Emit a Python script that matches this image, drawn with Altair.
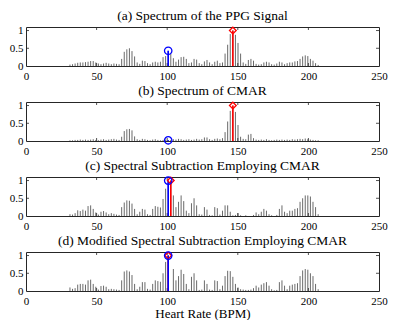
import altair as alt
import pandas as pd

# Frequency bins (BPM)
bpm = [31.13, 32.96, 34.79, 36.62, 38.45, 40.28, 42.12, 43.95, 45.78, 47.61,
       49.44, 51.27, 53.10, 54.93, 56.76, 58.59, 60.43, 62.26, 64.09, 65.92,
       67.75, 69.58, 71.41, 73.24, 75.07, 76.91, 78.74, 80.57, 82.40, 84.23,
       86.06, 87.89, 89.72, 91.55, 93.39, 95.22, 97.05, 98.88, 100.71, 102.54,
       104.37, 106.20, 108.03, 109.86, 111.70, 113.53, 115.36, 117.19, 119.02, 120.85,
       122.68, 124.51, 126.34, 128.18, 130.01, 131.84, 133.67, 135.50, 137.33, 139.16,
       140.99, 142.82, 144.66, 146.49, 148.32, 150.15, 151.98, 153.81, 155.64, 157.47,
       159.30, 161.13, 162.97, 164.80, 166.63, 168.46, 170.29, 172.12, 173.95, 175.78,
       177.61, 179.45, 181.28, 183.11, 184.94, 186.77, 188.60, 190.43, 192.26, 194.09,
       195.93, 197.76, 199.59, 201.42, 203.25, 205.08, 206.91]

spec_a = [0.04, 0.05, 0.07, 0.09, 0.1, 0.1, 0.11, 0.12, 0.14, 0.14,
          0.1, 0.07, 0.05, 0.07, 0.09, 0.07, 0.05, 0.07, 0.06, 0.05,
          0.2, 0.4, 0.47, 0.5, 0.42, 0.27, 0.1, 0.06, 0.15, 0.14,
          0.08, 0.05, 0.1, 0.12, 0.1, 0.12, 0.25, 0.28,
          0.43,
          0.35, 0.22, 0.12, 0.18, 0.25, 0.26, 0.2, 0.08, 0.1, 0.2,
          0.18, 0.08, 0.05, 0.13, 0.17, 0.1, 0.05, 0.12, 0.15, 0.08,
          0.1, 0.35, 0.6, 0.9,
          1.0,
          0.88, 0.65, 0.35, 0.1, 0.06, 0.17, 0.2, 0.15, 0.06, 0.04,
          0.05, 0.1, 0.12, 0.1, 0.05, 0.04, 0.07, 0.12, 0.1, 0.05,
          0.08, 0.1, 0.1, 0.13, 0.14, 0.2, 0.27, 0.3, 0.28, 0.2,
          0.15, 0.08, 0.03]

spec_b = [0.02, 0.02, 0.03, 0.03, 0.04, 0.03, 0.04, 0.03, 0.04, 0.05,
          0.03, 0.02, 0.04, 0.05, 0.03, 0.04, 0.05, 0.06, 0.04, 0.03,
          0.12, 0.28, 0.33, 0.34, 0.3, 0.13, 0.05, 0.03, 0.06, 0.05,
          0.03, 0.02, 0.04, 0.05, 0.03, 0.02, 0.03, 0.04,
          0.02,
          0.03, 0.05, 0.04, 0.06, 0.05, 0.03, 0.04, 0.05, 0.03, 0.04,
          0.06, 0.04, 0.05, 0.1, 0.1, 0.05, 0.03, 0.06, 0.07, 0.05,
          0.08, 0.25, 0.55, 0.85,
          1.0,
          0.82, 0.45, 0.12, 0.06, 0.05, 0.18, 0.2, 0.08, 0.04, 0.03,
          0.04, 0.03, 0.05, 0.03, 0.02, 0.03, 0.04, 0.03, 0.04, 0.03,
          0.04, 0.03, 0.05, 0.04, 0.05, 0.06, 0.05, 0.07, 0.05, 0.04,
          0.03, 0.02, 0.02]

spec_c = [0.05, 0.04, 0.08, 0.16, 0.14, 0.18, 0.15, 0.28, 0.3, 0.2,
          0.1, 0.04, 0.12, 0.14, 0.1, 0.05, 0.08, 0.06, 0.04, 0.03,
          0.25, 0.38, 0.44, 0.43, 0.35, 0.2, 0.05, 0.12, 0.2, 0.18,
          0.05, 0.03, 0.2, 0.28, 0.26, 0.24, 0.48, 0.77,
          1.0,
          1.0,
          0.58, 0.25, 0.4, 0.58, 0.42, 0.15, 0.08, 0.36, 0.5, 0.3,
          0.05, 0.04, 0.25, 0.18, 0.03, 0.02, 0.25, 0.22, 0.04, 0.15,
          0.3, 0.3, 0.12,
          0.02, 0.03, 0.08, 0.02, 0.0, 0.02, 0.0, 0.0, 0.03, 0.1,
          0.05, 0.12, 0.2, 0.15, 0.05, 0.02, 0.0, 0.03, 0.2, 0.3,
          0.12, 0.08, 0.15, 0.15, 0.2, 0.22, 0.4, 0.5, 0.58, 0.58,
          0.55, 0.4, 0.25, 0.05]

spec_d = [0.1, 0.06, 0.08, 0.18, 0.2, 0.2, 0.18, 0.3, 0.32, 0.2,
          0.12, 0.04, 0.14, 0.15, 0.12, 0.05, 0.06, 0.05, 0.04, 0.03,
          0.3, 0.55, 0.58, 0.55, 0.45, 0.2, 0.05, 0.12, 0.25, 0.25,
          0.06, 0.04, 0.2, 0.3, 0.28, 0.26, 0.5, 0.82,
          1.0,
          0.0,
          0.62, 0.3, 0.42, 0.6, 0.48, 0.2, 0.05, 0.4, 0.5, 0.3,
          0.03, 0.04, 0.3, 0.2, 0.04, 0.03, 0.3, 0.28, 0.05, 0.15,
          0.42, 0.57, 0.56,
          0.4, 0.2, 0.1, 0.05, 0.04, 0.03, 0.03, 0.04, 0.08, 0.15,
          0.1, 0.18, 0.22, 0.25, 0.15, 0.05, 0.02, 0.03, 0.25, 0.3,
          0.15, 0.05, 0.15, 0.18, 0.2, 0.22, 0.42, 0.58, 0.62, 0.6,
          0.5, 0.42, 0.2, 0.05]

titles = ["(a) Spectrum of the PPG Signal",
          "(b) Spectrum of CMAR",
          "(c) Spectral Subtraction Employing CMAR",
          "(d) Modified Spectral Subtraction Employing CMAR"]
spectra = [spec_a, spec_b, spec_c, spec_d]
blue_bin = [38, 38, 38, 38]   # index into bpm
red_bin = [63, 63, 39, 38]

x_ticks = [0, 50, 100, 150, 200, 250]
x_inner = [50, 100, 150, 200]
y_ticks = [0, 0.5, 1]
y_inner = [0.5, 1]

W, H = 353, 39
FONT = "Liberation Serif"
AX = "#262626"


def panel(vals, title, bi, ri, last):
    df = pd.DataFrame({"bpm": bpm, "amp": vals})
    xs = alt.Scale(domain=[0, 250], nice=False, zero=False)
    ys = alt.Scale(domain=[0, 1.1], nice=False)
    xaxis = alt.Axis(values=x_ticks, ticks=False, domain=False, grid=False,
                     labelPadding=4, labelFlush=False, labelOverlap=False, format="d")
    yaxis = alt.Axis(values=y_ticks, ticks=False, domain=False, grid=False,
                     labelPadding=3, labelOverlap=False, labelFlush=False,
                     labelExpr="datum.value == 0.5 ? '0.5' : format(datum.value, 'd')")
    xt = "Heart Rate (BPM)" if last else None

    def X(f):
        return alt.X(f, scale=xs, axis=xaxis, title=xt)

    def Y(f):
        return alt.Y(f, scale=ys, axis=yaxis, title=None)

    stems = alt.Chart(df).mark_rule(color="#6a6a6a", strokeWidth=1).encode(
        x=X("bpm:Q"), y=Y("amp:Q"), y2=alt.datum(0))
    red = df.iloc[[ri]]
    blue = df.iloc[[bi]]
    red_stem = alt.Chart(red).mark_rule(color="#ff0000", strokeWidth=1.6).encode(
        x=X("bpm:Q"), y=Y("amp:Q"), y2=alt.datum(0))
    blue_stem = alt.Chart(blue).mark_rule(color="#0000ff", strokeWidth=1.6).encode(
        x=X("bpm:Q"), y=Y("amp:Q"), y2=alt.datum(0))
    red_mk = alt.Chart(red).mark_point(shape="diamond", filled=False, color="#ff0000",
                                       size=45, strokeWidth=1.3, opacity=1).encode(
        x=X("bpm:Q"), y=Y("amp:Q"))
    blue_mk = alt.Chart(blue).mark_point(shape="circle", filled=False, color="#0000ff",
                                         size=55, strokeWidth=1.3, opacity=1).encode(
        x=X("bpm:Q"), y=Y("amp:Q"))
    tx = pd.DataFrame({"bpm": x_inner})
    ty = pd.DataFrame({"amp": y_inner})
    top_t = alt.Chart(tx).mark_rule(color=AX, strokeWidth=0.8).encode(
        x=X("bpm:Q"), y=alt.value(0), y2=alt.value(3))
    bot_t = alt.Chart(tx).mark_rule(color=AX, strokeWidth=0.8).encode(
        x=X("bpm:Q"), y=alt.value(H), y2=alt.value(H - 3))
    left_t = alt.Chart(ty).mark_rule(color=AX, strokeWidth=0.8).encode(
        y=Y("amp:Q"), x=alt.value(0), x2=alt.value(3))
    right_t = alt.Chart(ty).mark_rule(color=AX, strokeWidth=0.8).encode(
        y=Y("amp:Q"), x=alt.value(W), x2=alt.value(W - 3))
    return alt.layer(stems, top_t, bot_t, left_t, right_t,
                     red_stem, blue_stem, red_mk, blue_mk).properties(
        width=W, height=H, title=alt.TitleParams(title))


panels = [panel(spectra[i], titles[i], blue_bin[i], red_bin[i], i == 3) for i in range(4)]

chart = alt.vconcat(*panels, spacing=1).properties(
    padding={"left": 0, "top": 0, "right": 0, "bottom": 0}
).configure_view(stroke=AX, strokeWidth=1).configure_axis(
    labelFont=FONT, labelFontSize=11, labelColor="#000",
    titleFont=FONT, titleFontSize=13, titleFontWeight="normal", titleColor="#000",
    titlePadding=1
).configure_title(
    font=FONT, fontSize=13.5, fontWeight="normal", color="#000",
    offset=2, anchor="middle", frame="group"
)

chart.save("out.html", embed_options={"renderer": "svg", "actions": False})
